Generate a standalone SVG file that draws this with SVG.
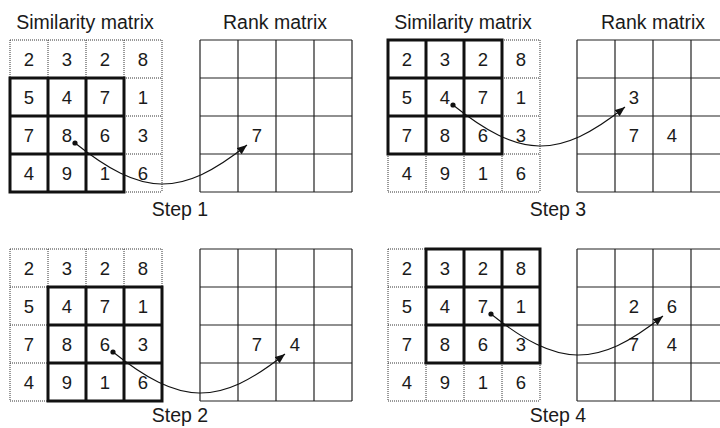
<svg xmlns="http://www.w3.org/2000/svg" xmlns:xlink="http://www.w3.org/1999/xlink" width="720" height="428" viewBox="0 0 720 428">
<style>
text{font-family:"Liberation Sans",Arial,sans-serif;fill:#1a1a1a;text-anchor:middle}
.t{font-size:19.5px}
.n{font-size:18.5px}
.dot{fill:none;stroke:#333;stroke-width:1;stroke-dasharray:1 1}
.thick{fill:none;stroke:#111;stroke-width:3}
.thin{fill:none;stroke:#222;stroke-width:1.2}
.arr{fill:none;stroke:#111;stroke-width:1.1}
</style>
<defs>
<marker id="ah" markerUnits="userSpaceOnUse" markerWidth="12" markerHeight="10" refX="10" refY="4" orient="auto">
<path d="M0,0 L10,4 L0,8 z" fill="#111"/>
</marker>
<path id="sg" d="M0,0V152M38,0V152M76,0V152M114,0V152M152,0V152M0,0H152M0,38H152M0,76H152M0,114H152M0,152H152"/>
<path id="win" d="M0,0H114V114H0zM38,0V114M76,0V114M0,38H114M0,76H114"/>
<g id="arrow">
<path d="M75,143 C141.7,196.3 180.3,198.3 247,145" class="arr" marker-end="url(#ah)"/>
<circle cx="75" cy="143" r="2.6" fill="#111"/>
</g>
</defs>

<g id="labels">
<text class="t" x="85" y="29">Similarity matrix</text>
<text class="t" x="275" y="29">Rank matrix</text>
<text class="t" x="463" y="29">Similarity matrix</text>
<text class="t" x="653" y="29">Rank matrix</text>
<text class="t" x="180" y="216">Step 1</text>
<text class="t" x="558" y="216">Step 3</text>
<text class="t" x="180" y="422">Step 2</text>
<text class="t" x="558" y="422">Step 4</text>
</g>

<g id="sim1">
<use xlink:href="#sg" x="10" y="40" class="dot"/>
<use xlink:href="#win" x="10" y="78" class="thick"/>
<g class="n">
<text x="29" y="66">2</text><text x="67" y="66">3</text><text x="105" y="66">2</text><text x="143" y="66">8</text>
<text x="29" y="104">5</text><text x="67" y="104">4</text><text x="105" y="104">7</text><text x="143" y="104">1</text>
<text x="29" y="142">7</text><text x="67" y="142">8</text><text x="105" y="142">6</text><text x="143" y="142">3</text>
<text x="29" y="180">4</text><text x="67" y="180">9</text><text x="105" y="180">1</text><text x="143" y="180">6</text>
</g>
</g>
<g id="rank1">
<use xlink:href="#sg" x="200" y="40" class="thin"/>
<g class="n"><text x="257" y="142">7</text></g>
</g>

<g id="sim3">
<use xlink:href="#sg" x="388" y="40" class="dot"/>
<use xlink:href="#win" x="388" y="40" class="thick"/>
<g class="n">
<text x="407" y="66">2</text><text x="445" y="66">3</text><text x="483" y="66">2</text><text x="521" y="66">8</text>
<text x="407" y="104">5</text><text x="445" y="104">4</text><text x="483" y="104">7</text><text x="521" y="104">1</text>
<text x="407" y="142">7</text><text x="445" y="142">8</text><text x="483" y="142">6</text><text x="521" y="142">3</text>
<text x="407" y="180">4</text><text x="445" y="180">9</text><text x="483" y="180">1</text><text x="521" y="180">6</text>
</g>
</g>
<g id="rank3">
<use xlink:href="#sg" x="577" y="40" class="thin"/>
<g class="n"><text x="634" y="104">3</text><text x="634" y="142">7</text><text x="672" y="142">4</text></g>
</g>

<g id="sim2">
<use xlink:href="#sg" x="10" y="249" class="dot"/>
<use xlink:href="#win" x="48" y="287" class="thick"/>
<g class="n">
<text x="29" y="275">2</text><text x="67" y="275">3</text><text x="105" y="275">2</text><text x="143" y="275">8</text>
<text x="29" y="313">5</text><text x="67" y="313">4</text><text x="105" y="313">7</text><text x="143" y="313">1</text>
<text x="29" y="351">7</text><text x="67" y="351">8</text><text x="105" y="351">6</text><text x="143" y="351">3</text>
<text x="29" y="389">4</text><text x="67" y="389">9</text><text x="105" y="389">1</text><text x="143" y="389">6</text>
</g>
</g>
<g id="rank2">
<use xlink:href="#sg" x="200" y="249" class="thin"/>
<g class="n"><text x="257" y="351">7</text><text x="295" y="351">4</text></g>
</g>

<g id="sim4">
<use xlink:href="#sg" x="388" y="249" class="dot"/>
<use xlink:href="#win" x="426" y="249" class="thick"/>
<g class="n">
<text x="407" y="275">2</text><text x="445" y="275">3</text><text x="483" y="275">2</text><text x="521" y="275">8</text>
<text x="407" y="313">5</text><text x="445" y="313">4</text><text x="483" y="313">7</text><text x="521" y="313">1</text>
<text x="407" y="351">7</text><text x="445" y="351">8</text><text x="483" y="351">6</text><text x="521" y="351">3</text>
<text x="407" y="389">4</text><text x="445" y="389">9</text><text x="483" y="389">1</text><text x="521" y="389">6</text>
</g>
</g>
<g id="rank4">
<use xlink:href="#sg" x="577" y="249" class="thin"/>
<g class="n"><text x="634" y="313">2</text><text x="672" y="313">6</text><text x="634" y="351">7</text><text x="672" y="351">4</text></g>
</g>

<g id="connectors">
<use xlink:href="#arrow"/>
<use xlink:href="#arrow" x="378" y="-38"/>
<use xlink:href="#arrow" x="38" y="209"/>
<use xlink:href="#arrow" x="416" y="171"/>
</g>
</svg>
